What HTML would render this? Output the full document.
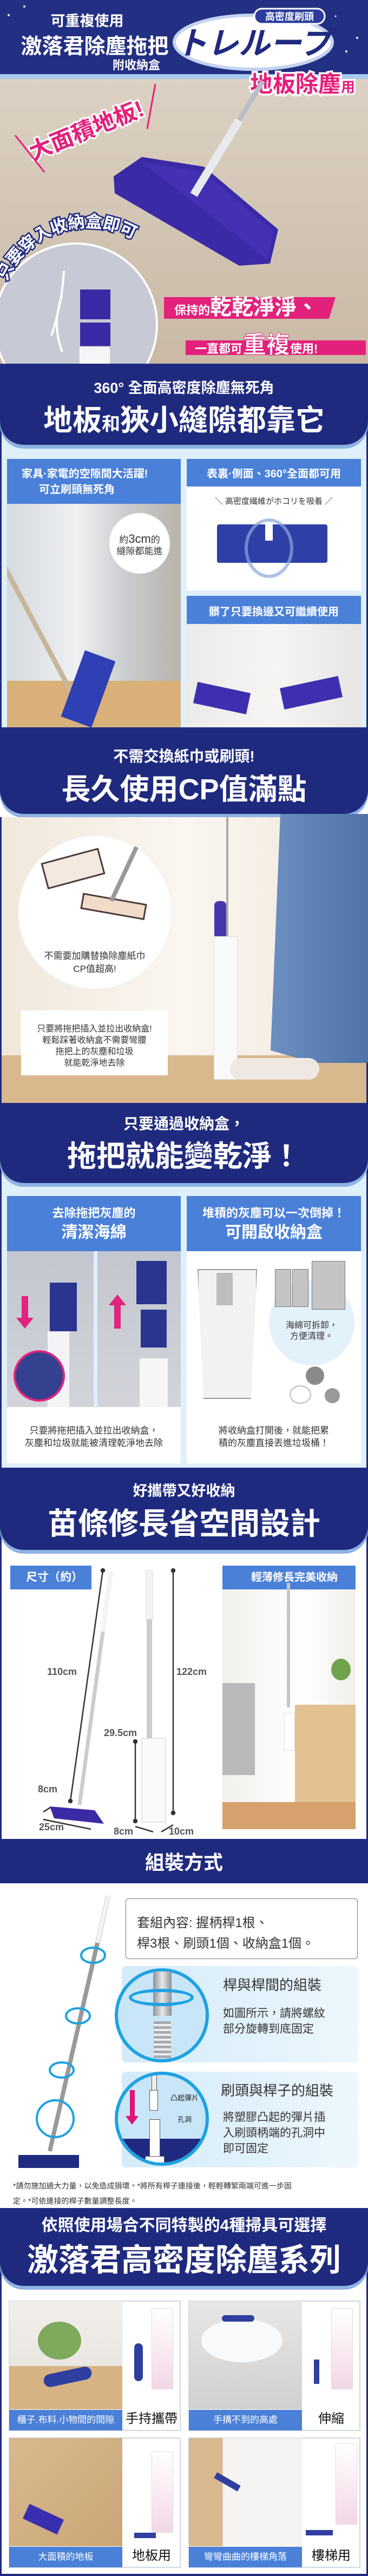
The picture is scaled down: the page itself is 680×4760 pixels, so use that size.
<!DOCTYPE html>
<html><head><meta charset="utf-8">
<style>
*{margin:0;padding:0;box-sizing:border-box}
body{width:680px;height:4760px;position:relative;background:#fff;font-family:"Liberation Sans","Noto Sans CJK TC",sans-serif;overflow:hidden}
.a{position:absolute}
.t{position:absolute;white-space:nowrap;line-height:1;font-weight:bold}
.c{left:0;width:680px;text-align:center}
.nav{position:absolute;left:0;width:680px;background:#1f2a7e}
.rb{border-radius:0 0 44px 44px;box-shadow:0 7px 0 #8fb2e3}
.lb{position:absolute;left:0;width:680px;background:#dff0fb;border-left:3px solid #1f2a7e;border-right:3px solid #1f2a7e}
.hd{position:absolute;background:#4a80d8;color:#fff}
.w{color:#fff}
</style></head><body>

<!-- HERO -->
<svg class="a" style="left:0;top:0" width="680" height="680" viewBox="0 0 680 680" font-family="Liberation Sans, Noto Sans CJK TC, sans-serif" font-weight="bold">
<defs>
<linearGradient id="fl" x1="0" y1="0" x2="0" y2="1"><stop offset="0" stop-color="#dcd1c3"/><stop offset="1" stop-color="#c9b9a5"/></linearGradient>
<clipPath id="ph"><rect x="0" y="146" width="680" height="526"/></clipPath>
</defs>
<rect x="0" y="0" width="680" height="146" fill="#232f82"/>
<rect x="0" y="137" width="680" height="9" fill="#a8caee"/>
<rect x="0" y="146" width="680" height="526" fill="url(#fl)"/>
<rect x="0" y="672" width="680" height="8" fill="#1f2a7e"/>
<g fill="#fff"><circle cx="45" cy="12" r="2"/><circle cx="16" cy="28" r="2"/><circle cx="640" cy="95" r="2"/><circle cx="660" cy="70" r="2"/><circle cx="620" cy="30" r="1.5"/></g>
<text x="161" y="48" font-size="27" fill="#fff" text-anchor="middle">可重複使用</text>
<text x="175" y="99" font-size="39" fill="#fff" text-anchor="middle">激落君除塵拖把</text>
<text x="252" y="128" font-size="22" fill="#fff" text-anchor="middle">附收納盒</text>
<ellipse cx="468" cy="78" rx="146" ry="50" fill="#fff" stroke="#c3d3f0" stroke-width="6"/>
<text x="468" y="100" font-size="58" fill="#1f2a80" text-anchor="middle" font-style="italic">トレループ</text>
<rect x="470" y="16" width="130" height="28" rx="14" fill="#2c3c9e" stroke="#fff" stroke-width="3"/>
<text x="535" y="37" font-size="18" fill="#fff" text-anchor="middle">高密度刷頭</text>
<text x="462" y="170" font-size="42" fill="#e3217b" stroke="#fff" stroke-width="7" paint-order="stroke">地板除塵<tspan font-size="26">用</tspan></text>
<g clip-path="url(#ph)">
<line x1="486" y1="150" x2="440" y2="225" stroke="#b8bec6" stroke-width="9"/>
<polygon points="210,326 262,290 377,308 514,424 499,487 442,491 212,357" fill="#3a2aa6"/>
<polygon points="262,300 377,318 505,428 495,480" fill="#4a36bd" opacity=".6"/>
<line x1="442" y1="222" x2="358" y2="360" stroke="#e8ebee" stroke-width="15"/>
<circle cx="140" cy="600" r="150" fill="#c7cad5" stroke="#fff" stroke-width="4"/>
<rect x="148" y="535" width="56" height="105" fill="#3a2aa6"/>
<rect x="148" y="590" width="56" height="6" fill="#c7cad5"/>
<rect x="146" y="640" width="58" height="40" fill="#f4f5f7" stroke="#bbb"/>
<path d="M115 545 Q95 600 115 650" stroke="#fff" stroke-width="4" fill="none"/>
<path d="M95 620 Q115 560 118 500" stroke="#fff" stroke-width="4" fill="none"/>
</g>
<path id="arc" d="M 12 520 A 165 165 0 0 1 305 500" fill="none"/>
<text font-size="31" fill="#fff" stroke="#1f2a80" stroke-width="5" paint-order="stroke"><textPath href="#arc">只要穿入收納盒即可</textPath></text>
<text x="160" y="255" font-size="42" fill="#e3217b" stroke="#fff" stroke-width="6" paint-order="stroke" text-anchor="middle" transform="rotate(-22 160 241)">大面積地板!</text>
<line x1="28" y1="250" x2="82" y2="318" stroke="#e3217b" stroke-width="3"/>
<line x1="287" y1="155" x2="272" y2="238" stroke="#e3217b" stroke-width="3"/>
<polygon points="303,549 620,549 608,589 303,589" fill="#e3217b"/>
<text x="322" y="581" font-size="22" fill="#fff">保持的<tspan font-size="40">乾乾淨淨、</tspan></text>
<polygon points="343,629 676,629 676,656 343,656" fill="#e3217b"/>
<text x="360" y="652" font-size="22" fill="#fff">一直都可<tspan font-size="44" fill="#fff" stroke="#e3217b">重複</tspan>使用!</text>
</svg>

<!-- SECTION 2 -->
<div class="lb" style="top:680px;height:672px"></div>
<div class="nav rb" style="top:672px;height:150px"></div>
<div class="t c w" style="top:704px;font-size:27px">360° 全面高密度除塵無死角</div>
<div class="t c w" style="top:750px;font-size:54px">地板<span style="font-size:34px">和</span>狹小縫隙都靠它</div>

<div class="a" style="left:13px;top:848px;width:321px;height:496px;background:linear-gradient(90deg,#d6d9dd,#eef0f2 40%,#c8cacd 70%,#b8b3aa);overflow:hidden">
 <div class="a" style="left:0;top:410px;width:321px;height:90px;background:#d9b07a"></div>
 <div class="a" style="left:-30px;top:160px;width:9px;height:420px;background:#c8b69a;transform:rotate(-28deg);transform-origin:top"></div>
 <div class="a" style="left:120px;top:360px;width:60px;height:130px;background:#2f3fb4;transform:rotate(20deg)"></div>
</div>
<div class="hd" style="left:13px;top:848px;width:321px;height:83px"></div>
<div class="t w" style="left:40px;top:866px;font-size:20px">家具·家電的空隙間大活躍!</div>
<div class="t w" style="left:72px;top:895px;font-size:20px">可立刷頭無死角</div>
<div class="a" style="left:202px;top:948px;width:112px;height:112px;border-radius:50%;background:#fff"></div>
<div class="t" style="left:202px;width:112px;text-align:center;top:985px;font-size:17px;color:#333;font-weight:normal">約<span style="font-size:22px">3cm</span>的</div>
<div class="t" style="left:202px;width:112px;text-align:center;top:1010px;font-size:17px;color:#333;font-weight:normal">縫隙都能進</div>

<div class="hd" style="left:345px;top:848px;width:322px;height:51px"></div>
<div class="t w" style="left:345px;width:322px;text-align:center;top:866px;font-size:20px">表裏·側面、360°全面都可用</div>
<div class="a" style="left:345px;top:899px;width:322px;height:192px;background:#fff"></div>
<div class="t" style="left:345px;width:322px;text-align:center;top:919px;font-size:15px;color:#333;font-weight:normal">＼ 高密度繊維がホコリを吸着 ／</div>
<div class="a" style="left:401px;top:969px;width:204px;height:71px;background:#2e3fa8;border-radius:4px"></div>
<div class="a" style="left:490px;top:969px;width:14px;height:30px;background:#fff"></div>
<div class="a" style="left:452px;top:958px;width:90px;height:110px;border:6px solid #8aa8da;border-radius:50%;opacity:.7"></div>
<div class="hd" style="left:345px;top:1101px;width:322px;height:52px"></div>
<div class="t w" style="left:345px;width:322px;text-align:center;top:1121px;font-size:20px">髒了只要換邊又可繼續使用</div>
<div class="a" style="left:345px;top:1153px;width:322px;height:191px;background:linear-gradient(90deg,#ecebea,#f6f5f3,#e7e6e4)"></div>
<div class="a" style="left:360px;top:1270px;width:100px;height:40px;background:#3f2fb0;transform:rotate(12deg)"></div>
<div class="a" style="left:520px;top:1260px;width:110px;height:40px;background:#3f2fb0;transform:rotate(-12deg)"></div>

<!-- SECTION 3 -->
<div class="nav rb" style="top:1344px;height:160px;border-radius:0 0 44px 44px"></div>
<div class="t c w" style="top:1384px;font-size:28px">不需交換紙巾或刷頭!</div>
<div class="t c w" style="top:1432px;font-size:54px">長久使用CP值滿點</div>
<div class="a" style="left:0;top:1510px;width:680px;height:528px;background:linear-gradient(90deg,#f1e8dc,#faf6f0 50%,#efe6da);border-left:3px solid #1f2a7e;border-right:3px solid #1f2a7e">
</div>
<div class="a" style="left:3px;top:1950px;width:674px;height:88px;background:#d9b88d"></div>
<div class="a" style="left:418px;top:1505px;width:4px;height:225px;background:#aaa"></div>
<div class="a" style="left:396px;top:1665px;width:22px;height:70px;background:#4a35b0;border-radius:8px"></div>
<div class="a" style="left:395px;top:1730px;width:44px;height:265px;background:#fafafa;border:1px solid #ddd"></div>
<div class="a" style="left:500px;top:1504px;width:180px;height:460px;background:linear-gradient(90deg,#6d8fc0,#4f73a8);clip-path:polygon(10% 0,100% 0,100% 100%,45% 100%,0 95%)"></div>
<div class="a" style="left:425px;top:1955px;width:165px;height:40px;background:#efe8e2;border-radius:20px"></div>
<div class="a" style="left:34px;top:1545px;width:282px;height:282px;border-radius:50%;background:#fff"></div>
<div class="a" style="left:80px;top:1580px;width:110px;height:50px;background:#f4e9de;border:3px solid #4b3a3a;transform:rotate(-15deg)"></div>
<div class="a" style="left:150px;top:1660px;width:120px;height:30px;background:#f0dcc8;border:3px solid #4b3a3a;transform:rotate(10deg)"></div>
<div class="a" style="left:225px;top:1560px;width:8px;height:110px;background:#999;transform:rotate(25deg)"></div>
<div class="t" style="left:34px;width:282px;text-align:center;top:1758px;font-size:17px;color:#333;font-weight:normal">不需要加購替換除塵紙巾</div>
<div class="t" style="left:34px;width:282px;text-align:center;top:1782px;font-size:17px;color:#333;font-weight:normal">CP值超高!</div>
<div class="a" style="left:39px;top:1867px;width:271px;height:120px;background:#fff"></div>
<div class="t" style="left:39px;width:271px;text-align:center;top:1891px;font-size:16px;color:#333;font-weight:normal;line-height:21px">只要將拖把插入並拉出收納盒!<br>輕鬆踩著收納盒不需要彎腰<br>拖把上的灰塵和垃圾<br>就能乾淨地去除</div>

<!-- SECTION 4 -->
<div class="lb" style="top:2150px;height:570px"></div>
<div class="nav rb" style="top:2038px;height:148px"></div>
<div class="t c w" style="top:2063px;font-size:28px">只要通過收納盒，</div>
<div class="t c w" style="top:2110px;font-size:54px">拖把就能變乾淨！</div>

<div class="hd" style="left:13px;top:2210px;width:321px;height:102px"></div>
<div class="t w" style="left:13px;width:321px;text-align:center;top:2231px;font-size:22px">去除拖把灰塵的</div>
<div class="t w" style="left:13px;width:321px;text-align:center;top:2263px;font-size:30px">清潔海綿</div>
<div class="a" style="left:13px;top:2312px;width:160px;height:288px;background:linear-gradient(#c3c6cf,#d2d4da)"></div>
<div class="a" style="left:180px;top:2312px;width:154px;height:288px;background:linear-gradient(#c3c6cf,#d2d4da)"></div>
<div class="a" style="left:92px;top:2370px;width:50px;height:90px;background:#2a3590"></div>
<div class="a" style="left:88px;top:2460px;width:40px;height:140px;background:#f4f4f6"></div>
<div class="a" style="left:40px;top:2395px;width:12px;height:45px;background:#e0237e"></div>
<div class="a" style="left:30px;top:2435px;width:0;height:0;border-left:16px solid transparent;border-right:16px solid transparent;border-top:20px solid #e0237e"></div>
<div class="a" style="left:25px;top:2495px;width:95px;height:95px;border-radius:50%;background:#34418f;border:4px solid #e0237e"></div>
<div class="a" style="left:252px;top:2330px;width:56px;height:80px;background:#2a3590"></div>
<div class="a" style="left:260px;top:2420px;width:48px;height:70px;background:#2a3590"></div>
<div class="a" style="left:258px;top:2510px;width:52px;height:90px;background:#f6f6f8"></div>
<div class="a" style="left:211px;top:2410px;width:12px;height:45px;background:#e0237e"></div>
<div class="a" style="left:201px;top:2392px;width:0;height:0;border-left:16px solid transparent;border-right:16px solid transparent;border-bottom:20px solid #e0237e"></div>
<div class="a" style="left:13px;top:2600px;width:321px;height:104px;background:#fff"></div>
<div class="t" style="left:13px;width:321px;text-align:center;top:2632px;font-size:17px;color:#333;font-weight:normal;line-height:23px">只要將拖把插入並拉出收納盒，<br>灰塵和垃圾就能被清理乾淨地去除</div>

<div class="hd" style="left:345px;top:2210px;width:322px;height:102px"></div>
<div class="t w" style="left:345px;width:322px;text-align:center;top:2231px;font-size:22px">堆積的灰塵可以一次倒掉！</div>
<div class="t w" style="left:345px;width:322px;text-align:center;top:2263px;font-size:30px">可開啟收納盒</div>
<div class="a" style="left:345px;top:2312px;width:322px;height:392px;background:#fff"></div>
<div class="a" style="left:497px;top:2365px;width:158px;height:158px;border-radius:50%;background:#e3f1fb"></div>
<div class="a" style="left:365px;top:2345px;width:110px;height:240px;background:#f2f2f2;border:2px solid #999;clip-path:polygon(0 0,100% 0,90% 100%,10% 100%)"></div>
<div class="a" style="left:400px;top:2352px;width:30px;height:60px;background:#bdbdbd"></div>
<div class="a" style="left:508px;top:2345px;width:30px;height:70px;background:#c4c4c4;border:1px solid #777"></div>
<div class="a" style="left:540px;top:2345px;width:30px;height:70px;background:#c4c4c4;border:1px solid #777"></div>
<div class="a" style="left:576px;top:2330px;width:62px;height:90px;background:#c4c4c4;border:1px solid #777"></div>
<div class="t" style="left:497px;width:158px;text-align:center;top:2440px;font-size:16px;color:#333;font-weight:normal;line-height:20px">海綿可拆卸，<br>方便清理。</div>
<div class="a" style="left:565px;top:2525px;width:34px;height:34px;border-radius:50%;background:#8a8a8a"></div>
<div class="a" style="left:600px;top:2565px;width:28px;height:28px;border-radius:50%;background:#999"></div>
<div class="a" style="left:535px;top:2560px;width:40px;height:34px;border-radius:50%;border:2px solid #bbb"></div>
<div class="t" style="left:345px;width:322px;text-align:center;top:2632px;font-size:17px;color:#333;font-weight:normal;line-height:23px">將收納盒打開後，就能把累<br>積的灰塵直接丟進垃圾桶！</div>

<!-- SECTION 5 -->
<div class="a" style="left:0;top:2720px;width:680px;height:680px;background:#fff;border-left:3px solid #1f2a7e;border-right:3px solid #1f2a7e"></div>
<div class="nav rb" style="top:2712px;height:152px"></div>
<div class="t c w" style="top:2742px;font-size:27px">好攜帶又好收納</div>
<div class="t c w" style="top:2788px;font-size:56px">苗條修長省空間設計</div>
<div class="hd" style="left:19px;top:2893px;width:150px;height:44px"></div>
<div class="t w" style="left:48px;top:2904px;font-size:21px">尺寸（約）</div>
<div class="hd" style="left:411px;top:2893px;width:246px;height:44px"></div>
<div class="t w" style="left:411px;width:246px;text-align:center;top:2905px;font-size:20px;padding-left:20px">輕薄修長完美收納</div>
<div class="a" style="left:411px;top:2937px;width:246px;height:443px;background:linear-gradient(90deg,#f2f0ec,#fff 60%,#f1efeb)"></div>
<div class="a" style="left:411px;top:3110px;width:60px;height:170px;background:#b9b9b9"></div>
<div class="a" style="left:545px;top:3150px;width:112px;height:200px;background:#e3c092"></div>
<div class="a" style="left:411px;top:3330px;width:246px;height:50px;background:#d6a16c"></div>
<div class="a" style="left:530px;top:2925px;width:6px;height:230px;background:#c7c7c7"></div>
<div class="a" style="left:525px;top:3165px;width:20px;height:70px;background:#fff;border:1px solid #ddd"></div>
<div class="a" style="left:612px;top:3065px;width:36px;height:40px;background:#6fa44a;border-radius:50%"></div>
<svg class="a" style="left:0;top:2880px" width="410" height="520">
<g stroke="#333" stroke-width="2.5" fill="#333">
<line x1="190" y1="22" x2="130" y2="448"/><circle cx="190" cy="22" r="3"/><circle cx="130" cy="448" r="3"/>
<line x1="320" y1="22" x2="320" y2="470"/><circle cx="320" cy="22" r="3"/><circle cx="320" cy="470" r="3"/>
<line x1="250" y1="338" x2="250" y2="485"/><circle cx="250" cy="338" r="3"/><circle cx="250" cy="485" r="3"/>
<line x1="80" y1="482" x2="168" y2="500"/><line x1="80" y1="468" x2="93" y2="460"/>
<line x1="250" y1="495" x2="283" y2="505"/><line x1="298" y1="505" x2="320" y2="492"/>
</g>
<line x1="205" y1="24" x2="147" y2="455" stroke="#ccc" stroke-width="7"/>
<line x1="205" y1="24" x2="190" y2="135" stroke="#f4f4f4" stroke-width="9"/>
<polygon points="92,458 175,465 192,490 100,480" fill="#3b2aa6"/>
<rect x="271" y="22" width="10" height="310" fill="#ccc"/>
<rect x="270" y="22" width="12" height="90" fill="#f4f4f4" stroke="#ddd"/>
<rect x="262" y="332" width="44" height="155" fill="#fafafa" stroke="#ccc"/>
<g font-family="Liberation Sans, sans-serif" font-weight="bold" font-size="18" fill="#555">
<text x="87" y="215">110cm</text><text x="326" y="215">122cm</text><text x="192" y="328">29.5cm</text>
<text x="70" y="432">8cm</text><text x="72" y="502">25cm</text><text x="210" y="510">8cm</text><text x="312" y="510">10cm</text>
</g>
</svg>

<!-- SECTION 6 -->
<div class="nav" style="top:3398px;height:82px"></div>
<div class="t c w" style="top:3424px;font-size:36px">組裝方式</div>
<div class="a" style="left:232px;top:3508px;width:429px;height:112px;border:1.5px solid #777;border-radius:6px;background:#fff"></div>
<div class="t" style="left:253px;top:3535px;font-size:24px;color:#333;font-weight:normal;line-height:38px">套組內容: 握柄桿1根、<br>桿3根、刷頭1個、收納盒1個。</div>
<div class="a" style="left:225px;top:3633px;width:437px;height:178px;background:linear-gradient(90deg,#d3ebfa,#eef7fd);border-radius:8px"></div>
<div class="a" style="left:212px;top:3637px;width:174px;height:174px;border-radius:50%;background:#c9e6f8;border:6px solid #1ea2e2"></div>
<div class="a" style="left:283px;top:3643px;width:34px;height:82px;background:linear-gradient(90deg,#8d9297,#e6e8ea,#8d9297)"></div>
<div class="a" style="left:284px;top:3735px;width:32px;height:68px;background:repeating-linear-gradient(#a7abb0 0 5px,#eceef0 5px 9px)"></div>
<div class="a" style="left:238px;top:3675px;width:120px;height:32px;border:6px solid #1ea2e2;border-radius:50%"></div>
<div class="t" style="left:412px;top:3655px;font-size:26px;color:#333;font-weight:normal">桿與桿間的組裝</div>
<div class="t" style="left:412px;top:3706px;font-size:21px;color:#333;font-weight:normal;line-height:29px">如圖所示，請將螺紋<br>部分旋轉到底固定</div>
<div class="a" style="left:225px;top:3828px;width:437px;height:177px;background:linear-gradient(90deg,#d3ebfa,#eef7fd);border-radius:8px"></div>
<div class="a" style="left:212px;top:3828px;width:174px;height:174px;border-radius:50%;background:#c9e6f8;border:6px solid #1ea2e2;overflow:hidden">
 <div class="a" style="left:0;top:118px;width:170px;height:60px;background:#1f2a80"></div>
 <div class="a" style="left:62px;top:0;width:10px;height:30px;background:#eee;border:1px solid #555"></div>
 <div class="a" style="left:58px;top:28px;width:16px;height:38px;background:#fff;border:1px solid #555"></div>
 <div class="a" style="left:58px;top:82px;width:20px;height:85px;background:#fff;border:1px solid #555"></div>
 <div class="a" style="left:50px;top:150px;width:36px;height:20px;background:#fff;border:1px solid #555"></div>
 <div class="a" style="left:22px;top:28px;width:9px;height:52px;background:#e2147a"></div>
 <div class="a" style="left:14px;top:76px;width:0;height:0;border-left:12px solid transparent;border-right:12px solid transparent;border-top:16px solid #e2147a"></div>
</div>
<div class="t" style="left:315px;top:3870px;font-size:13px;color:#222;font-weight:normal">凸起彈片</div>
<div class="t" style="left:328px;top:3910px;font-size:13px;color:#222;font-weight:normal">孔洞</div>
<div class="t" style="left:408px;top:3850px;font-size:26px;color:#333;font-weight:normal">刷頭與桿子的組裝</div>
<div class="t" style="left:412px;top:3898px;font-size:21px;color:#333;font-weight:normal;line-height:29px">將塑膠凸起的彈片插<br>入刷頭柄端的孔洞中<br>即可固定</div>
<svg class="a" style="left:0;top:3495px" width="225" height="520">
<line x1="200" y1="8" x2="92" y2="480" stroke="#999" stroke-width="8"/>
<line x1="200" y1="8" x2="180" y2="95" stroke="#f5f5f5" stroke-width="7"/>
<rect x="34" y="487" width="112" height="24" fill="#1f2a80"/>
<g fill="none" stroke="#1ea2e2" stroke-width="4">
<ellipse cx="172" cy="118" rx="22" ry="14"/><ellipse cx="144" cy="230" rx="22" ry="14"/><ellipse cx="114" cy="330" rx="22" ry="14"/>
<circle cx="102" cy="420" r="34"/></g>
</svg>
<div class="t" style="left:24px;top:4025px;font-size:14px;color:#333;font-weight:normal;line-height:28px">*請勿施加過大力量，以免造成損壞。*將所有桿子連接後，輕輕轉緊兩端可進一步固<br>定。*可依連接的桿子數量調整長度。</div>

<!-- SECTION 7 -->
<div class="a" style="left:0;top:4180px;width:680px;height:580px;background:#fff;border-left:3px solid #1f2a7e;border-right:3px solid #1f2a7e;border-bottom:4px solid #1f2a7e"></div>
<div class="nav rb" style="top:4080px;height:144px"></div>
<div class="t c w" style="top:4098px;font-size:30px">依照使用場合不同特製的4種掃具可選擇</div>
<div class="t c w" style="top:4148px;font-size:58px">激落君高密度除塵系列</div>

<div class="a" style="left:16px;top:4251px;width:318px;height:241px;border:2px solid #cfd8e4;background:#fff"></div>
<div class="a" style="left:17px;top:4252px;width:209px;height:200px;background:linear-gradient(#f2efeb,#e9e6e2 60%,#d7b384 60%)"></div>
<div class="a" style="left:70px;top:4290px;width:80px;height:70px;background:#7ea85a;border-radius:50%"></div>
<div class="a" style="left:80px;top:4380px;width:90px;height:24px;background:#2e3fa0;border-radius:12px;transform:rotate(-12deg)"></div>
<div class="a" style="left:280px;top:4265px;width:40px;height:150px;background:linear-gradient(#fff,#f3d7e6);border:1px solid #ddd"></div>
<div class="a" style="left:248px;top:4330px;width:16px;height:70px;background:#2e3fa0;border-radius:8px"></div>
<div class="a" style="left:17px;top:4453px;width:209px;height:38px;background:#4a80d8"></div>
<div class="t w" style="left:17px;width:209px;text-align:center;top:4463px;font-size:17px;font-weight:normal">櫃子.布料.小物間的間隙</div>
<div class="t" style="left:226px;width:108px;text-align:center;top:4458px;font-size:24px;color:#111;font-weight:normal">手持攜帶</div>

<div class="a" style="left:348px;top:4251px;width:318px;height:241px;border:2px solid #cfd8e4;background:#fff"></div>
<div class="a" style="left:349px;top:4252px;width:209px;height:200px;background:linear-gradient(#e9e7e5,#d2d0ce)"></div>
<div class="a" style="left:372px;top:4285px;width:150px;height:80px;background:#f7f9fb;border-radius:50%"></div>
<div class="a" style="left:410px;top:4278px;width:60px;height:12px;background:#2e3fa0;border-radius:6px"></div>
<div class="a" style="left:612px;top:4265px;width:40px;height:150px;background:linear-gradient(#fff,#f3d7e6);border:1px solid #ddd"></div>
<div class="a" style="left:580px;top:4360px;width:10px;height:45px;background:#2e3fa0"></div>
<div class="a" style="left:349px;top:4453px;width:209px;height:38px;background:#4a80d8"></div>
<div class="t w" style="left:349px;width:209px;text-align:center;top:4463px;font-size:17px;font-weight:normal">手搆不到的高處</div>
<div class="t" style="left:558px;width:108px;text-align:center;top:4458px;font-size:24px;color:#111;font-weight:normal">伸縮</div>

<div class="a" style="left:16px;top:4504px;width:318px;height:241px;border:2px solid #cfd8e4;background:#fff"></div>
<div class="a" style="left:17px;top:4505px;width:209px;height:200px;background:linear-gradient(135deg,#d8b98f,#c9a676)"></div>
<div class="a" style="left:45px;top:4640px;width:70px;height:30px;background:#3a2eb0;transform:rotate(25deg)"></div>
<div class="a" style="left:280px;top:4530px;width:40px;height:150px;background:linear-gradient(#fff,#f3d7e6);border:1px solid #ddd"></div>
<div class="a" style="left:248px;top:4680px;width:40px;height:10px;background:#2e3fa0"></div>
<div class="a" style="left:17px;top:4706px;width:209px;height:38px;background:#4a80d8"></div>
<div class="t w" style="left:17px;width:209px;text-align:center;top:4716px;font-size:17px;font-weight:normal">大面積的地板</div>
<div class="t" style="left:226px;width:108px;text-align:center;top:4711px;font-size:24px;color:#111;font-weight:normal">地板用</div>

<div class="a" style="left:348px;top:4504px;width:318px;height:241px;border:2px solid #cfd8e4;background:#fff"></div>
<div class="a" style="left:349px;top:4505px;width:209px;height:200px;background:linear-gradient(90deg,#d8b98f 30%,#f5f4f2 30%)"></div>
<div class="a" style="left:395px;top:4580px;width:50px;height:12px;background:#2e3fa0;transform:rotate(30deg)"></div>
<div class="a" style="left:620px;top:4515px;width:40px;height:150px;background:linear-gradient(#fff,#f3d7e6);border:1px solid #ddd"></div>
<div class="a" style="left:565px;top:4675px;width:50px;height:10px;background:#2e3fa0"></div>
<div class="a" style="left:349px;top:4706px;width:209px;height:38px;background:#4a80d8"></div>
<div class="t w" style="left:349px;width:209px;text-align:center;top:4716px;font-size:17px;font-weight:normal">彎彎曲曲的樓梯角落</div>
<div class="t" style="left:558px;width:108px;text-align:center;top:4711px;font-size:24px;color:#111;font-weight:normal">樓梯用</div>

</body></html>
